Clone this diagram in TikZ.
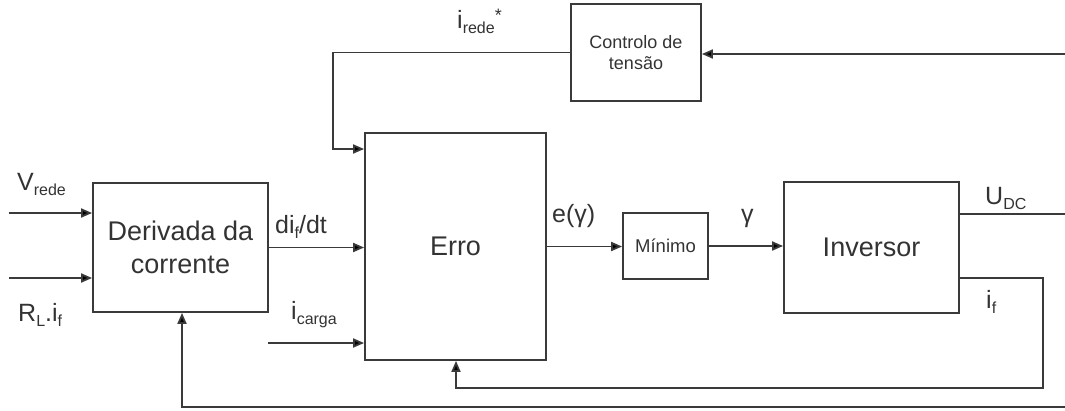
\documentclass[tikz,border=0pt]{standalone}
\usepackage{fontspec}
\setmainfont{Liberation Sans}
\usetikzlibrary{arrows.meta}
\definecolor{linec}{HTML}{3A3A3A}
\definecolor{textc}{HTML}{333333}
% lowered, smaller index text
\newcommand{\lo}[1]{\raisebox{-0.4ex}{\fontsize{16}{16}\selectfont #1}}

\begin{document}
\begin{tikzpicture}[x=1pt,y=-1pt,
  blk/.style={draw=linec, line width=1.8pt, inner sep=0pt, align=center, text=textc},
  big/.style={font=\fontsize{27}{33}\selectfont},
  small/.style={font=\fontsize{18}{21}\selectfont},
  wire/.style={draw=linec, line width=1.8pt},
  arr/.style={wire, -{Triangle[length=11pt,width=9pt,fill=black]}},
  lab/.style={font=\fontsize{25}{28}\selectfont, text=textc, inner sep=0pt, anchor=base west},
]
\useasboundingbox (0,0) rectangle (1065,410);

% blocks
\node[blk, big, minimum width=175, minimum height=129] (der) at (180.5,247.5) {Derivada da\\corrente};
\node[blk, big, minimum width=181, minimum height=227] (erro) at (455.5,246.5) {Erro};
\node[blk, font=\fontsize{18.5}{20}\selectfont, minimum width=85, minimum height=66] (mini) at (665.5,246) {Mínimo};
\node[blk, big, minimum width=175, minimum height=131] (inv) at (871.5,247.5) {Inversor};
\node[blk, small, minimum width=130, minimum height=97] (ctl) at (636,52.5) {Controlo de\\tensão};

% free ends and bends
\coordinate (vin) at (9,213);
\coordinate (rin) at (9,278);
\coordinate (cin) at (268,343);
\coordinate (bendA) at (333,149);
\coordinate (udcin) at (1065,54);
\coordinate (udc) at (1065,214);
\coordinate (ifr) at (1043,278);
\coordinate (ifb) at (456,388);
\coordinate (bot) at (1065,407);
\coordinate (botl) at (182,407);

% connectors
\draw[arr] (vin) -- (vin -| der.west);
\draw[arr] (rin) -- (rin -| der.west);
\draw[arr] (der.east) -- (der.east -| erro.west);
\draw[arr] (cin) -- (cin -| erro.west);
\draw[arr] (ctl.west) -| (bendA) -- (bendA -| erro.west);
\draw[arr] (udcin) -- (udcin -| ctl.east);
\draw[arr] (erro.east) -- (erro.east -| mini.west);
\draw[arr] (mini.east) -- (mini.east -| inv.west);
\draw[wire] (inv.east |- udc) -- (udc);
\draw[arr] (inv.east |- ifr) -- (ifr) |- (ifb) -- (ifb |- erro.south);
\draw[arr] (bot) -- (botl) -- (botl |- der.south);

% signal labels
\node[lab] (lv) at (17,190) {V\lo{rede}};
\node[lab] (lr) at (18,321) {R\lo{L}.i\lo{f}};
\node[lab] (ld) at (275,233) {di\lo{f}/dt};
\node[lab] (lc) at (291,319) {i\lo{carga}};
\node[lab] (li) at (457,28) {i\lo{rede}\raisebox{0.5ex}{\fontsize{18}{18}\selectfont *}};
\node[lab] (le) at (552,222) {e(γ)};
\node[lab] (lg) at (741,222) {γ};
\node[lab] (lu) at (985,204) {U\lo{DC}};
\node[lab] (lf) at (986,308) {i\lo{f}};
\end{tikzpicture}
\end{document}
